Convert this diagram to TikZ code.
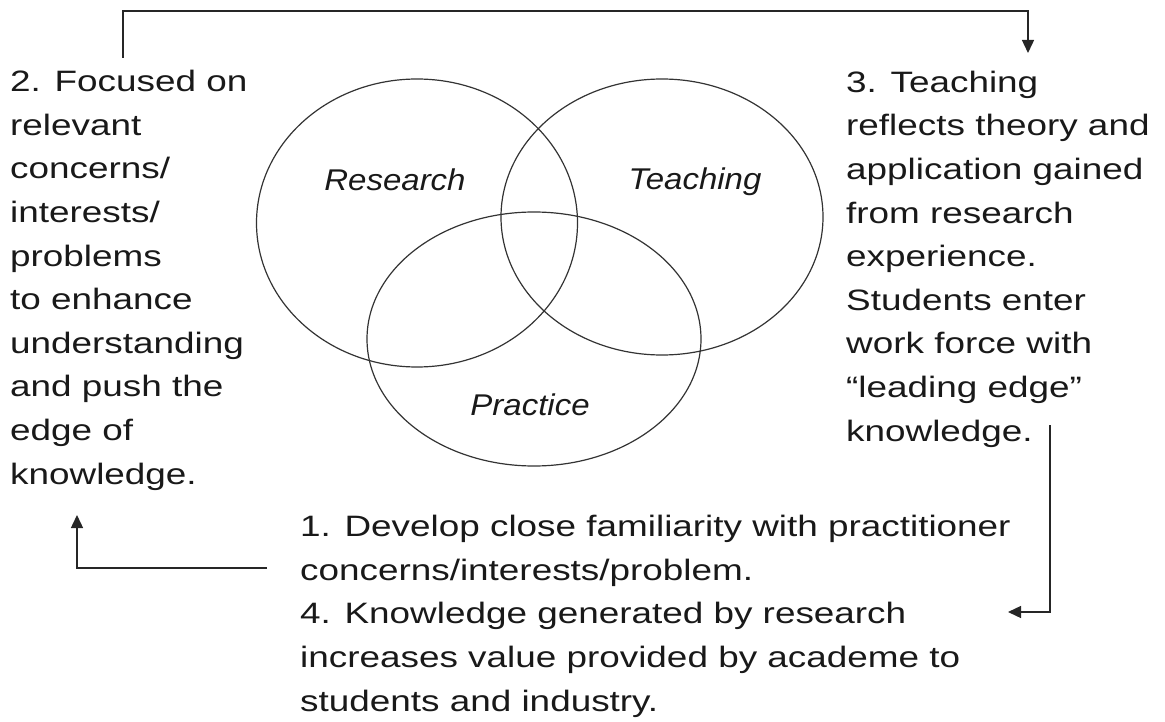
\documentclass[tikz,border=0pt]{standalone}
\usepackage{fontspec}
\setmainfont{Liberation Sans}[FakeStretch=1.25]
\newfontfamily\vennfont{Liberation Sans}[FakeStretch=1.1]
\usetikzlibrary{shapes.geometric,arrows.meta}
\begin{document}
\begin{tikzpicture}[x=1pt,y=-1pt,
  circ/.style={ellipse, draw=black!80, line width=1.2pt, inner sep=0pt},
  body/.style={inner sep=0pt, anchor=base west, align=left, text=black!90,
    font=\fontsize{29.5}{43.6}\selectfont},
  vlabel/.style={inner sep=0pt, anchor=base, text=black!90,
    font=\vennfont\itshape\fontsize{30}{36}\selectfont},
  conn/.style={draw=black!85, line width=1.4pt, -{Triangle[length=13pt,width=12pt]}}]
\path[use as bounding box] (0,0) rectangle (1165,722);

% the three overlapping areas
\node[circ, minimum width=321pt, minimum height=288pt] (research) at (417,223) {};
\node[circ, minimum width=322pt, minimum height=276pt] (teaching) at (662,217) {};
\node[circ, minimum width=334pt, minimum height=254pt] (practice) at (534,339) {};

\node[vlabel] (lres)  at (395,191) {Research};
\node[vlabel] (lteach) at (695,190) {Teaching};
\node[vlabel] (lprac) at (530,415) {Practice};

% the numbered statements (placed by the baseline of their last line)
\node[body] (two) at (10,484) {2. Focused on\\relevant\\concerns/\\interests/\\problems\\to enhance\\understanding\\and push the\\edge of\\knowledge.};
\node[body] (three) at (846,441) {3. Teaching\\reflects theory and\\application gained\\from research\\experience.\\Students enter\\work force with\\``leading edge''\\knowledge.};
\node[body] (onefour) at (300,711) {1. Develop close familiarity with practitioner\\concerns/interests/problem.\\4. Knowledge generated by research\\increases value provided by academe to\\students and industry.};

% cycle connectors
\coordinate (a2) at (123,58);
\coordinate (topy) at (600,11);
\coordinate (a3) at (1028,53);
\draw[conn] (a2) |- (topy) -| (a3);

\coordinate (b3) at (1050,425);
\coordinate (b4) at (1008,612);
\draw[conn] (b3) |- (b4);

\coordinate (c1) at (267,568);
\coordinate (c2) at (77,515);
\draw[conn] (c1) -| (c2);
\end{tikzpicture}
\end{document}
